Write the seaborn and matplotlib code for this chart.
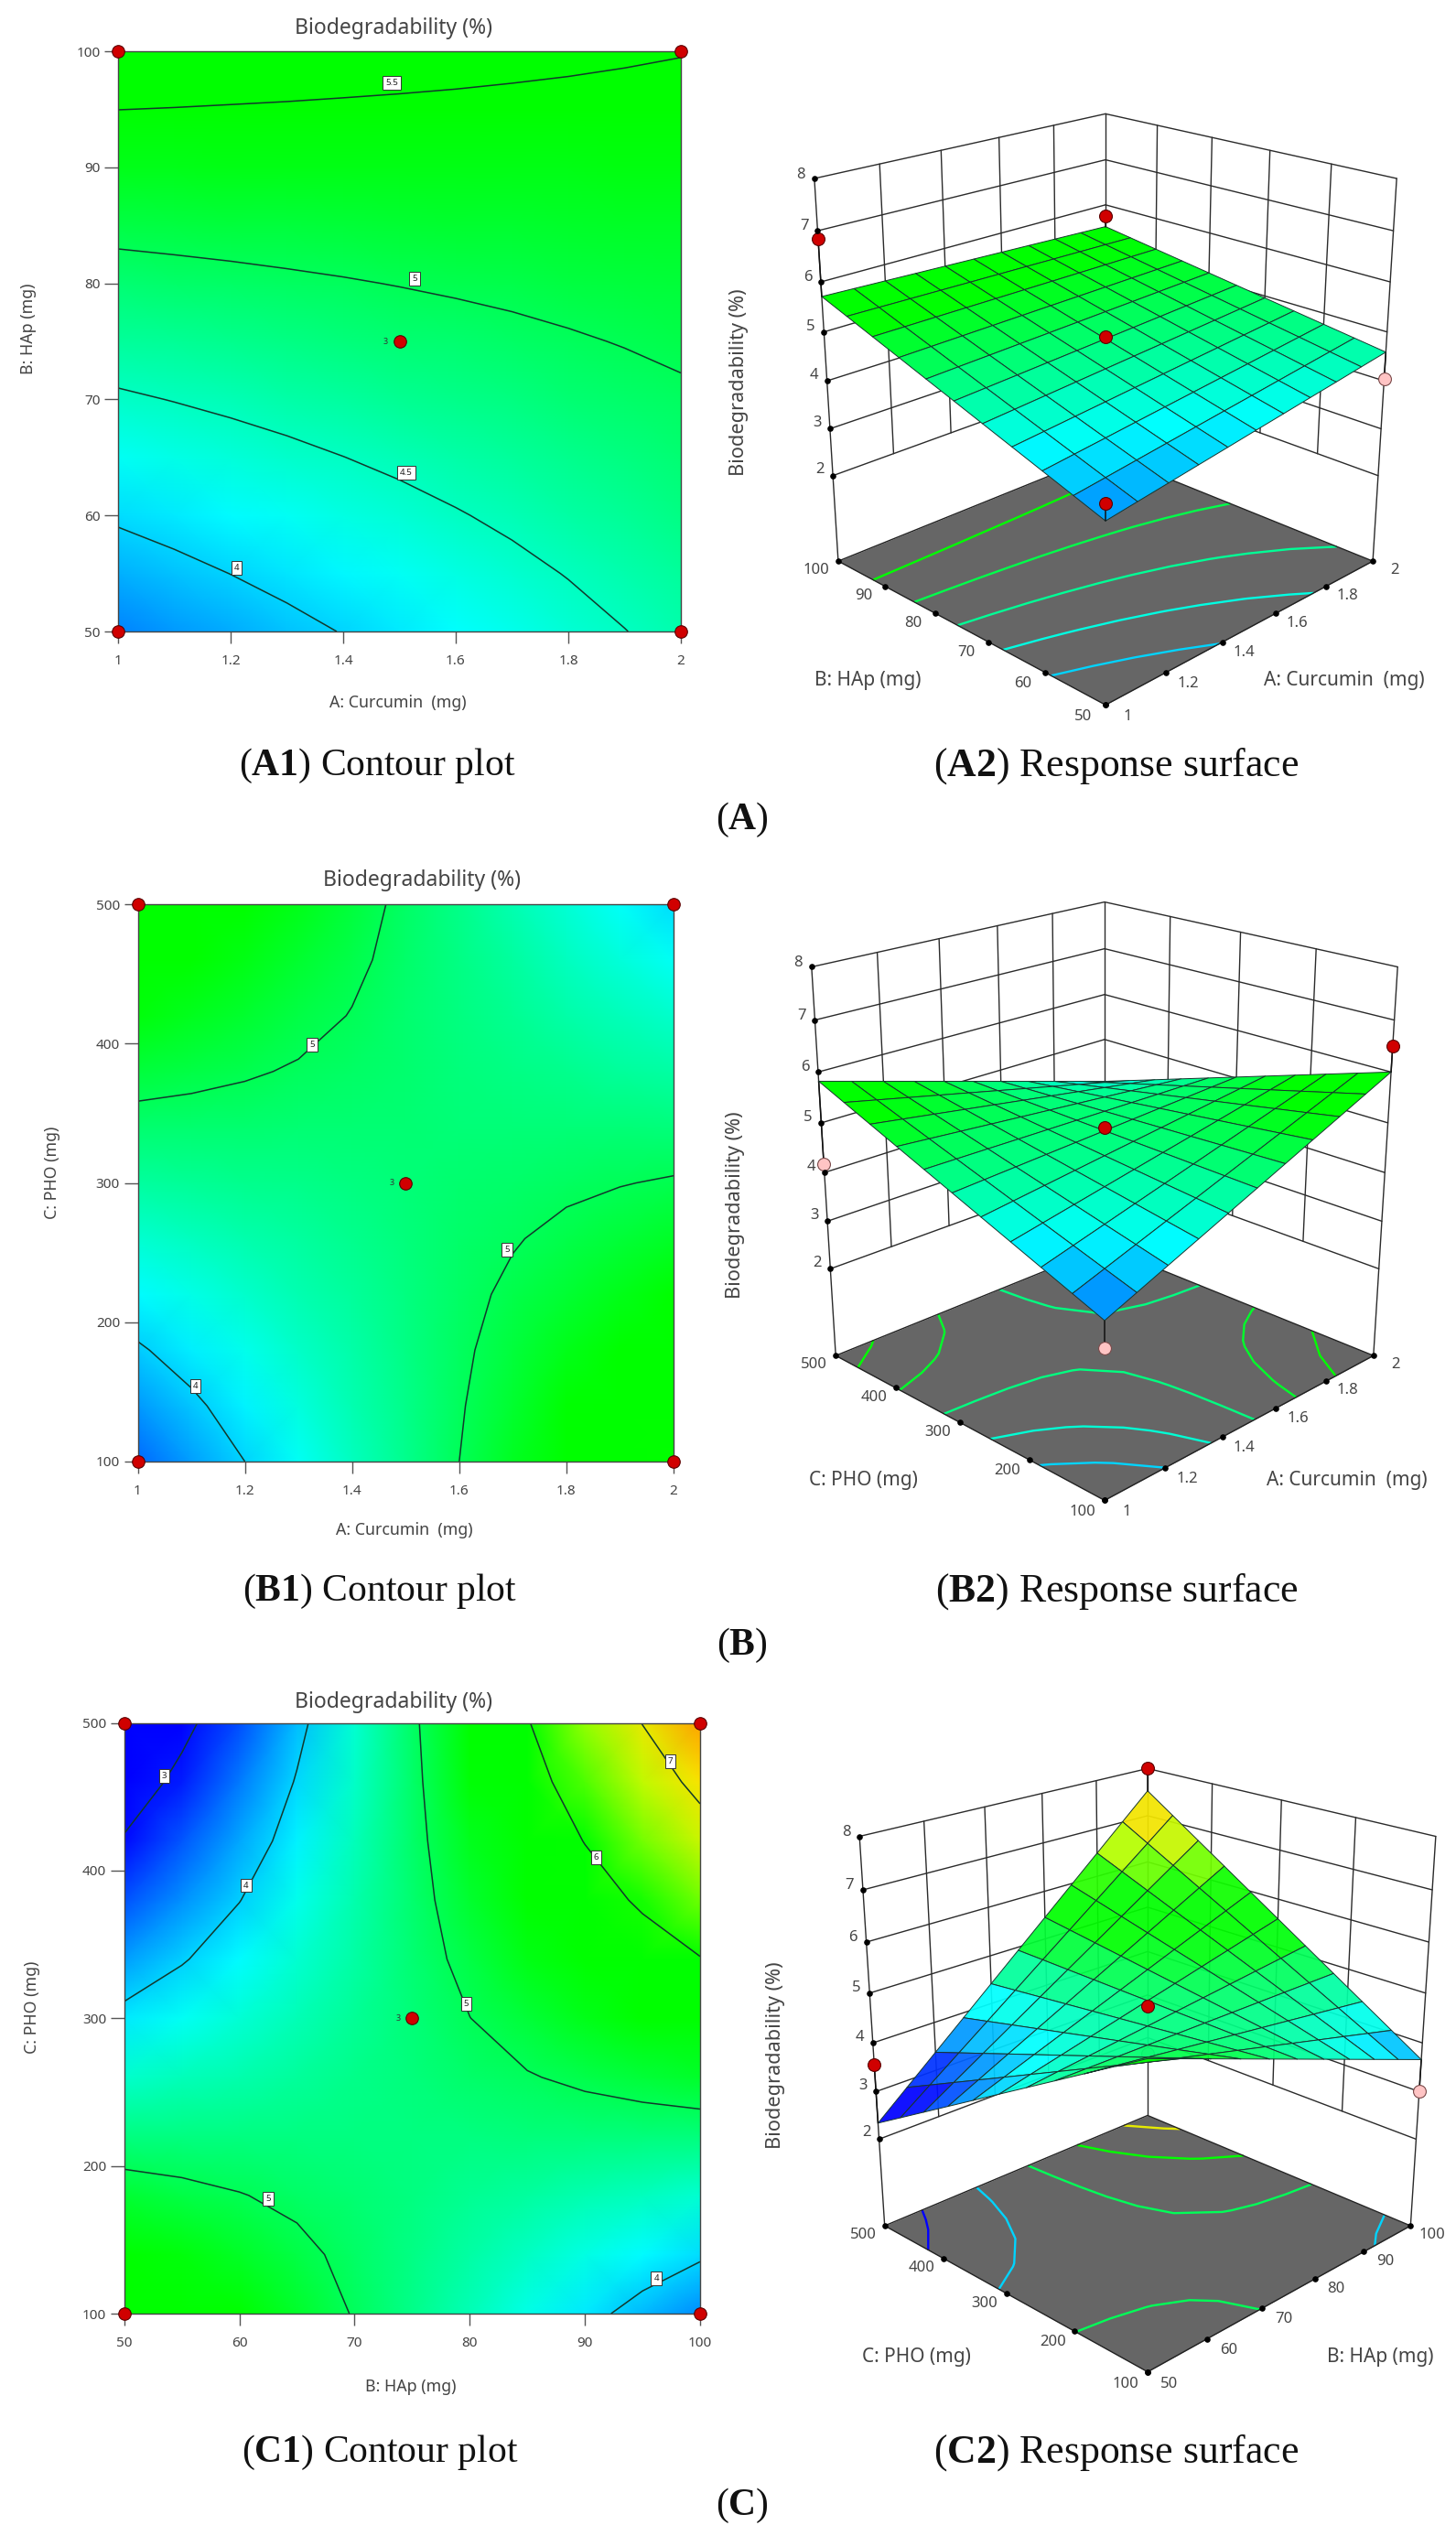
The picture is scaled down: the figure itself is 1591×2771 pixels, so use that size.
import numpy as np
import matplotlib
matplotlib.use('Agg')
import matplotlib.pyplot as plt
from matplotlib.colors import Normalize
from mpl_toolkits.mplot3d import proj3d
import seaborn as sns

# Grid positions shared by the tables below
grid_curcumin = [1, 1.1, 1.2, 1.3, 1.4, 1.5, 1.6, 1.7, 1.8, 1.9, 2]
grid_hap = [50, 55, 60, 65, 70, 75, 80, 85, 90, 95, 100]
grid_pho = [100, 140, 180, 220, 260, 300, 340, 380, 420, 460, 500]

# Biodegradability, one row per y grid value
table_a = [
    [3.625, 3.722, 3.818, 3.915, 4.011, 4.108, 4.204, 4.301, 4.397, 4.494, 4.590],
    [3.834, 3.918, 4.003, 4.088, 4.173, 4.258, 4.342, 4.427, 4.512, 4.597, 4.682],
    [4.042, 4.115, 4.188, 4.262, 4.335, 4.408, 4.481, 4.554, 4.628, 4.701, 4.774],
    [4.251, 4.312, 4.374, 4.435, 4.497, 4.558, 4.620, 4.681, 4.743, 4.804, 4.866],
    [4.459, 4.509, 4.559, 4.609, 4.659, 4.709, 4.758, 4.808, 4.858, 4.908, 4.958],
    [4.668, 4.706, 4.744, 4.783, 4.821, 4.859, 4.897, 4.935, 4.974, 5.012, 5.050],
    [4.876, 4.903, 4.929, 4.956, 4.982, 5.009, 5.036, 5.062, 5.089, 5.115, 5.142],
    [5.085, 5.100, 5.115, 5.130, 5.145, 5.160, 5.174, 5.189, 5.204, 5.219, 5.234],
    [5.293, 5.296, 5.300, 5.303, 5.306, 5.310, 5.313, 5.316, 5.319, 5.323, 5.326],
    [5.502, 5.494, 5.485, 5.477, 5.468, 5.460, 5.452, 5.443, 5.435, 5.426, 5.418],
    [5.710, 5.690, 5.670, 5.650, 5.630, 5.610, 5.590, 5.570, 5.550, 5.530, 5.510],
]
table_b = [
    [3.500, 3.750, 4.000, 4.250, 4.500, 4.750, 5.000, 5.250, 5.500, 5.750, 6.000],
    [3.732, 3.939, 4.147, 4.354, 4.561, 4.769, 4.976, 5.183, 5.390, 5.598, 5.805],
    [3.964, 4.129, 4.293, 4.458, 4.622, 4.787, 4.952, 5.116, 5.281, 5.445, 5.610],
    [4.196, 4.318, 4.440, 4.562, 4.684, 4.806, 4.927, 5.049, 5.171, 5.293, 5.415],
    [4.428, 4.507, 4.586, 4.666, 4.745, 4.824, 4.903, 4.982, 5.062, 5.141, 5.220],
    [4.660, 4.697, 4.733, 4.770, 4.806, 4.843, 4.879, 4.916, 4.952, 4.989, 5.025],
    [4.892, 4.886, 4.880, 4.873, 4.867, 4.861, 4.855, 4.849, 4.842, 4.836, 4.830],
    [5.124, 5.075, 5.026, 4.977, 4.928, 4.880, 4.831, 4.782, 4.733, 4.684, 4.635],
    [5.356, 5.264, 5.173, 5.081, 4.990, 4.898, 4.806, 4.715, 4.623, 4.532, 4.440],
    [5.588, 5.454, 5.319, 5.185, 5.051, 4.917, 4.782, 4.648, 4.514, 4.379, 4.245],
    [5.820, 5.643, 5.466, 5.289, 5.112, 4.935, 4.758, 4.581, 4.404, 4.227, 4.050],
]
table_c = [
    [5.860, 5.640, 5.420, 5.200, 4.980, 4.760, 4.540, 4.320, 4.100, 3.880, 3.660],
    [5.508, 5.362, 5.216, 5.070, 4.924, 4.778, 4.631, 4.485, 4.339, 4.193, 4.047],
    [5.156, 5.084, 5.012, 4.939, 4.867, 4.795, 4.723, 4.651, 4.578, 4.506, 4.434],
    [4.804, 4.806, 4.807, 4.809, 4.811, 4.813, 4.814, 4.816, 4.818, 4.819, 4.821],
    [4.452, 4.528, 4.603, 4.679, 4.754, 4.830, 4.906, 4.981, 5.057, 5.132, 5.208],
    [4.100, 4.250, 4.399, 4.549, 4.698, 4.848, 4.997, 5.147, 5.296, 5.446, 5.595],
    [3.748, 3.971, 4.195, 4.418, 4.642, 4.865, 5.088, 5.312, 5.535, 5.759, 5.982],
    [3.396, 3.693, 3.991, 4.288, 4.585, 4.883, 5.180, 5.477, 5.774, 6.072, 6.369],
    [3.044, 3.415, 3.786, 4.158, 4.529, 4.900, 5.271, 5.642, 6.014, 6.385, 6.756],
    [2.692, 3.137, 3.582, 4.027, 4.472, 4.918, 5.363, 5.808, 6.253, 6.698, 7.143],
    [2.340, 2.859, 3.378, 3.897, 4.416, 4.935, 5.454, 5.973, 6.492, 7.011, 7.530],
]

# Contour levels and their white labels (x, y, text)
levels_a = [4, 4.5, 5, 5.5]
levels_b = [4, 5]
levels_c = [3, 4, 5, 6, 7]
floor_levels_a = [4, 4.35, 4.7, 5.05, 5.4]
floor_levels_b = [4, 4.4, 4.8, 5.2, 5.6]
floor_levels_c = [3, 4, 5, 6, 7]
labels_a = [(1.486, 97.3, '5.5'), (1.527, 80.4, '5'), (1.512, 63.7, '4.5'), (1.211, 55.5, '4')]
labels_b = [(1.325, 399, '5'), (1.689, 252, '5'), (1.108, 154, '4')]
labels_c = [(53.5, 464, '3'), (60.6, 390, '4'), (79.7, 310, '5'), (62.5, 178, '5'),
            (91, 409, '6'), (97.4, 474, '7'), (96.2, 124, '4')]

# Design points
points_a_x = [1, 1, 2, 2, 1.5]
points_a_y = [50, 100, 50, 100, 75]
points_a_z = [3.95, 6.85, 4.05, 5.75, 4.9]
points_a_below = [False, False, True, False, False]
points_b_x = [1, 1, 2, 2, 1.5]
points_b_y = [100, 500, 100, 500, 300]
points_b_z = [3.0, 4.18, 6.5, 3.7, 4.9]
points_b_below = [True, True, False, True, False]
points_c_x = [50, 50, 100, 100, 75]
points_c_y = [100, 500, 100, 500, 300]
points_c_z = [5.95, 3.55, 3.0, 8.0, 4.75]
points_c_below = [True, False, True, False, False]

curcumin_ticks = [1, 1.2, 1.4, 1.6, 1.8, 2]
curcumin_labels = ['1', '1.2', '1.4', '1.6', '1.8', '2']
hap_ticks = [50, 60, 70, 80, 90, 100]
hap_labels = ['50', '60', '70', '80', '90', '100']
pho_ticks = [100, 200, 300, 400, 500]
pho_labels = ['100', '200', '300', '400', '500']
z_ticks = [2, 3, 4, 5, 6, 7, 8]
z_labels = ['2', '3', '4', '5', '6', '7', '8']

WIDTH, HEIGHT = 1591, 2771
TEXT = '#444444'
SERIF = 'Liberation Serif'

sns.set_theme(style='white')
plt.rcParams['font.family'] = ['Noto Sans', 'DejaVu Sans']
plt.rcParams['mathtext.fontset'] = 'custom'
plt.rcParams['mathtext.rm'] = SERIF
plt.rcParams['mathtext.bf'] = SERIF + ':bold'

# Stops every 0.6 from 3.0 to 8.4, green stays flat around 5.4-6.0 as in the original
surface_cmap = sns.blend_palette(['#0000ff', '#0080ff', '#00ffff', '#00ff80', '#00ff00', '#00ff00',
                                  '#b2ff00', '#ffe000', '#ff7000', '#ff0000'], n_colors=256, as_cmap=True)
surface_norm = Normalize(3.0, 8.4)

fig = plt.figure(figsize=(WIDTH / 100, HEIGHT / 100), dpi=100, facecolor='white')


def put_text(x, y, s, **kw):
    fig.text(x / WIDTH, 1 - y / HEIGHT, s, ha='center', va='center', **kw)


def contour_panel(box, xs, ys, table, levels, labels, px, py, xticks, xlabels, yticks, ylabels):
    left, top, right, bottom = box
    ax = fig.add_axes([left / WIDTH, 1 - bottom / HEIGHT, (right - left) / WIDTH, (bottom - top) / HEIGHT])
    ax.pcolormesh(xs, ys, np.array(table), cmap=surface_cmap, norm=surface_norm, shading='gouraud', rasterized=True)
    ax.contour(xs, ys, np.array(table), levels=levels, colors='#12382c', linewidths=1.1)
    for lx, ly, txt in labels:
        ax.text(lx, ly, txt, fontsize=7, color='#222222', ha='center', va='center',
                bbox=dict(boxstyle='square,pad=0.3', fc='white', ec='#333333', lw=0.7))
    ax.set_xlim(xs[0], xs[-1])
    ax.set_ylim(ys[0], ys[-1])
    ax.set_xticks(xticks, xlabels)
    ax.set_yticks(yticks, ylabels)
    ax.tick_params(axis='x', length=9, width=1, color='#555555', labelsize=11, labelcolor=TEXT, pad=9, bottom=True)
    ax.tick_params(axis='y', length=11, width=1, color='#555555', labelsize=11, labelcolor=TEXT, pad=3, left=True)
    for spine in ax.spines.values():
        spine.set_color('#444444')
        spine.set_linewidth(1)
    sns.scatterplot(x=px, y=py, ax=ax, color='#d00000', edgecolor='#5a0000', linewidth=0.8, s=95,
                    clip_on=False, zorder=5, legend=False)
    ax.set_xlabel('')
    ax.set_ylabel('')
    ax.annotate('3', (px[-1], py[-1]), xytext=(-11, 0), textcoords='offset points', fontsize=6.5,
                color='#333333', ha='center', va='center')
    return ax


def surface_panel(cx, cy, size, elev, box_z, xs, ys, table, floor_levels, px, py, pz, below,
                  xticks, xlabels, yticks, ylabels, alpha=1.0):
    left = cx - 0.5135 * size
    bottom = cy + 0.5135 * size
    ax = fig.add_axes([left / WIDTH, 1 - bottom / HEIGHT, size / WIDTH, size / HEIGHT],
                      projection='3d', computed_zorder=False)
    ax.patch.set_alpha(0)
    ax.set_axis_off()
    ax.view_init(elev=elev, azim=-135)
    ax.set_proj_type('persp', focal_length=0.48)
    ax.set_box_aspect((1, 1, box_z))
    x0, x1, y0, y1 = xs[0], xs[-1], ys[0], ys[-1]
    z0, z1 = 0.12, 8
    ax.set_xlim(x0, x1, view_margin=0)
    ax.set_ylim(y0, y1, view_margin=0)
    ax.set_zlim(z0, z1, view_margin=0)
    ax.set_xticks([])
    ax.set_yticks([])
    ax.set_zticks([])
    xr, yr = x1 - x0, y1 - y0
    line = dict(color='#2b2b2b', lw=1.0, zorder=1)

    # Back walls
    for t in xticks[1:-1]:
        ax.plot([t, t], [y1, y1], [z_ticks[0], z1], **line)
    for t in yticks[1:-1]:
        ax.plot([x1, x1], [t, t], [z_ticks[0], z1], **line)
    for z in z_ticks:
        ax.plot([x0, x1], [y1, y1], [z, z], **line)
        ax.plot([x1, x1], [y1, y0], [z, z], **line)
    ax.plot([x0, x0], [y1, y1], [z0, z1], **line)
    ax.plot([x1, x1], [y1, y1], [z0, z1], **line)
    ax.plot([x1, x1], [y0, y0], [z0, z1], **line)

    # Floor and its contours
    ax.plot_surface(np.array([[x0, x1], [x0, x1]]), np.array([[y0, y0], [y1, y1]]), np.full((2, 2), z0),
                    color='#666666', shade=False, linewidth=0, zorder=2)
    ax.contour(np.array(xs), np.array(ys), np.array(table), levels=floor_levels, zdir='z', offset=z0,
               cmap=surface_cmap, norm=surface_norm, linewidths=1.7, zorder=3)
    ax.plot([x0, x1, x1, x0, x0], [y0, y0, y1, y1, y0], [z0] * 5, color='#222222', lw=1.0, zorder=3)

    # Points under the surface go first, so it can cover them
    for x, y, z, low in zip(px, py, pz, below):
        if low:
            surf_z = table[ys.index(y)][xs.index(x)]
            ax.plot([x, x], [y, y], [z, surf_z], color='#111111', lw=1.1, zorder=4)
            ax.scatter([x], [y], [z], s=100, c='#ffc4c4', edgecolors='#7a4a4a', linewidths=0.8,
                       depthshade=False, zorder=4)

    X, Y = np.meshgrid(xs, ys)
    ax.plot_surface(X, Y, np.array(table), cmap=surface_cmap, norm=surface_norm, rstride=1, cstride=1,
                    edgecolor='#17352e', linewidth=0.7, shade=False, alpha=alpha, zorder=5)

    for x, y, z, low in zip(px, py, pz, below):
        if not low:
            surf_z = table[ys.index(y)][xs.index(x)]
            ax.plot([x, x], [y, y], [z, surf_z], color='#111111', lw=1.1, zorder=6)
            ax.scatter([x], [y], [z], s=100, c='#d00000', edgecolors='#5a0000', linewidths=0.8,
                       depthshade=False, zorder=7)

    # Tick dots and labels
    ax.scatter(xticks, [y0] * len(xticks), [z0] * len(xticks), s=14, c='black', depthshade=False, zorder=8)
    ax.scatter([x0] * len(yticks), yticks, [z0] * len(yticks), s=14, c='black', depthshade=False, zorder=8)
    ax.scatter([x0] * len(z_ticks), [y1] * len(z_ticks), z_ticks, s=14, c='black', depthshade=False, zorder=8)

    proj = ax.get_proj()

    def tick_text(x, y, z, s):
        u, v, _ = proj3d.proj_transform(x, y, z, proj)
        ax.text2D(u, v, s, transform=ax.transData, fontsize=12, color=TEXT, ha='center', va='center', zorder=9)

    for t, s in zip(xticks, xlabels):
        tick_text(t, y0 - 0.07 * yr, z0, s)
    for t, s in zip(yticks, ylabels):
        tick_text(x0 - 0.07 * xr, t, z0, s)
    for t, s in zip(z_ticks, z_labels):
        tick_text(x0, y1 + 0.055 * yr, t, s)
    return ax


# A
contour_panel((129, 56, 744, 690), grid_curcumin, grid_hap, table_a, levels_a, labels_a,
              points_a_x, points_a_y, curcumin_ticks, curcumin_labels, hap_ticks, hap_labels)
surface_panel(1208, 413, 734, 21.3, 1.04, grid_curcumin, grid_hap, table_a, floor_levels_a,
              points_a_x, points_a_y, points_a_z, points_a_below,
              curcumin_ticks, curcumin_labels, hap_ticks, hap_labels)
# B
contour_panel((150.5, 988, 736, 1597), grid_curcumin, grid_pho, table_b, levels_b, labels_b,
              points_b_x, points_b_y, curcumin_ticks, curcumin_labels, pho_ticks, pho_labels)
surface_panel(1207, 1278, 741, 21.3, 1.05, grid_curcumin, grid_pho, table_b, floor_levels_b,
              points_b_x, points_b_y, points_b_z, points_b_below,
              curcumin_ticks, curcumin_labels, pho_ticks, pho_labels)
# C
contour_panel((135.7, 1882.5, 765, 2528), grid_hap, grid_pho, table_c, levels_c, labels_c,
              points_c_x, points_c_y, hap_ticks, hap_labels, pho_ticks, pho_labels)
surface_panel(1254, 2229, 734, 22.3, 1.08, grid_hap, grid_pho, table_c, floor_levels_c,
              points_c_x, points_c_y, points_c_z, points_c_below,
              hap_ticks, hap_labels, pho_ticks, pho_labels, alpha=0.93)

# Titles and axis names
title = 'Biodegradability (%)'
axis_kw = dict(fontsize=12.8, color=TEXT)
surf_kw = dict(fontsize=15, color=TEXT)
put_text(430, 31, title, fontsize=16.5, color=TEXT)
put_text(461, 962.5, title, fontsize=16.5, color=TEXT)
put_text(430, 1860.5, title, fontsize=16.5, color=TEXT)
put_text(435, 768, 'A: Curcumin  (mg)', **axis_kw)
put_text(31, 359, 'B: HAp (mg)', rotation=90, **axis_kw)
put_text(442, 1672, 'A: Curcumin  (mg)', **axis_kw)
put_text(57, 1281, 'C: PHO (mg)', rotation=90, **axis_kw)
put_text(449, 2608, 'B: HAp (mg)', **axis_kw)
put_text(35, 2193, 'C: PHO (mg)', rotation=90, **axis_kw)
put_text(948, 744, 'B: HAp (mg)', **surf_kw)
put_text(1469, 744, 'A: Curcumin  (mg)', **surf_kw)
put_text(808, 418, title, rotation=90, fontsize=15.6, color=TEXT)
put_text(943, 1618, 'C: PHO (mg)', **surf_kw)
put_text(1472, 1618, 'A: Curcumin  (mg)', **surf_kw)
put_text(804, 1317, title, rotation=90, fontsize=15.6, color=TEXT)
put_text(1001, 2575, 'C: PHO (mg)', **surf_kw)
put_text(1508, 2575, 'B: HAp (mg)', **surf_kw)
put_text(847, 2246, title, rotation=90, fontsize=15.6, color=TEXT)

# Captions
cap_kw = dict(fontsize=30, color='#111111', family=SERIF)
resp_kw = dict(fontsize=31.5, color='#111111', family=SERIF)
put_text(412, 837, r'($\mathbf{A1}$) Contour plot', **cap_kw)
put_text(1220, 837, r'($\mathbf{A2}$) Response surface', **resp_kw)
put_text(811, 896, r'($\mathbf{A}$)', **cap_kw)
put_text(415, 1739, r'($\mathbf{B1}$) Contour plot', **cap_kw)
put_text(1220, 1739, r'($\mathbf{B2}$) Response surface', **resp_kw)
put_text(811, 1798, r'($\mathbf{B}$)', **cap_kw)
put_text(415, 2680, r'($\mathbf{C1}$) Contour plot', **cap_kw)
put_text(1220, 2680, r'($\mathbf{C2}$) Response surface', **resp_kw)
put_text(811, 2738, r'($\mathbf{C}$)', **cap_kw)

fig.savefig('out.png', dpi=100)
